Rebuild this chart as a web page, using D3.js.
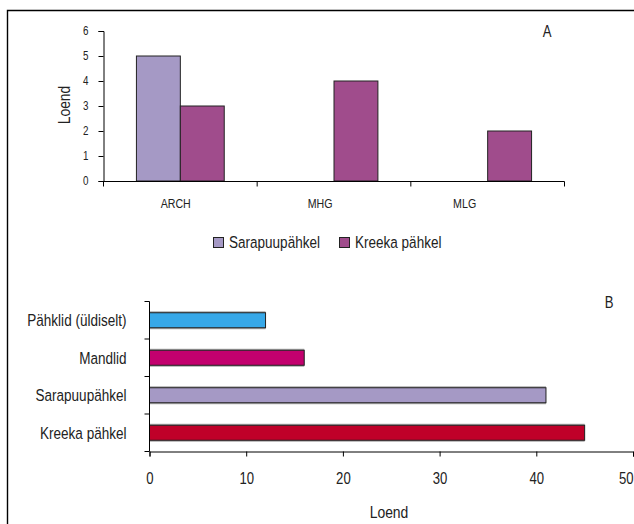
<!DOCTYPE html>
<html>
<head>
<meta charset="utf-8">
<script src="https://cdnjs.cloudflare.com/ajax/libs/d3/7.8.5/d3.min.js"></script>
<style>
  body { margin: 0; background: #fff; }
  svg text { font-family: "Liberation Sans", Arial, sans-serif; fill: #222; }
</style>
</head>
<body>
<div id="chart"></div>
<script>
// chart A data
var groupsA = ["ARCH", "MHG", "MLG"];
var seriesA = ["Sarapuupähkel", "Kreeka pähkel"];
var sarapuuA = [5, 0, 0];
var kreekaA = [3, 4, 2];
var colorsA = ["#a599c5", "#a04c8c"];
var ticksA = [0, 1, 2, 3, 4, 5, 6];

// chart B data
var catsB = ["Pähklid (üldiselt)", "Mandlid", "Sarapuupähkel", "Kreeka pähkel"];
var valuesB = [12, 16, 41, 45];
var colorsB = ["#37a8e8", "#c3006e", "#a599c5", "#bf0029"];
var ticksB = [0, 10, 20, 30, 40, 50];

// squeeze text horizontally, the original uses a narrow face
var SQ = 0.82;
function narrow(sel) {
  sel.each(function () {
    var t = d3.select(this);
    var x = +t.attr("x") || 0, y = +t.attr("y") || 0;
    t.attr("x", 0).attr("y", 0)
      .attr("transform", "translate(" + x + "," + y + ") scale(" + SQ + ",1)");
  });
}

var svg = d3.select("#chart").append("svg")
  .attr("width", 634)
  .attr("height", 524);

// outer frame (runs off the right and bottom edge)
svg.append("path")
  .attr("d", "M7.5,540 L7.5,10.5 L650,10.5")
  .style("fill", "none")
  .style("stroke", "#000")
  .style("stroke-width", 1.4);

// ---------- Chart A ----------
var xA = d3.scaleBand().domain(groupsA).range([103.5, 564.5]);
var yA = d3.scaleLinear().domain([0, 6]).range([181, 31]);
var barW = xA.bandwidth() / 3.5;   // gap width 150%
var xS = d3.scaleBand().domain(seriesA).range([0, 2 * barW]);

var rowsA = [];
groupsA.forEach(function (g, i) {
  rowsA.push({ g: g, s: seriesA[0], v: sarapuuA[i], c: colorsA[0] });
  rowsA.push({ g: g, s: seriesA[1], v: kreekaA[i], c: colorsA[1] });
});

svg.selectAll("rect.barA")
  .data(rowsA.filter(function (d) { return d.v > 0; }))
  .enter().append("rect")
  .attr("class", "barA")
  .attr("x", function (d) { return xA(d.g) + 0.75 * barW + xS(d.s); })
  .attr("y", function (d) { return yA(d.v); })
  .attr("width", xS.bandwidth())
  .attr("height", function (d) { return yA(0) - yA(d.v); })
  .style("fill", function (d) { return d.c; })
  .style("stroke", "#222")
  .style("stroke-width", 1);

var yAxisA = svg.append("g")
  .attr("transform", "translate(103.5,0)")
  .call(d3.axisLeft(yA).tickValues(ticksA).tickSize(5).tickPadding(10).tickFormat(d3.format("d")));
yAxisA.selectAll("text").style("font-size", "12px").call(narrow);

// x axis: ticks at category boundaries
var xAxisA = svg.append("g").attr("transform", "translate(0,181.5)");
xAxisA.append("line")
  .attr("x1", xA.range()[0]).attr("x2", xA.range()[1])
  .style("stroke", "#000");
xAxisA.selectAll("line.tk")
  .data(groupsA.map(function (g) { return xA(g); }).concat([xA.range()[1]]))
  .enter().append("line")
  .attr("class", "tk")
  .attr("x1", function (d) { return d; }).attr("x2", function (d) { return d; })
  .attr("y1", 0).attr("y2", 5)
  .style("stroke", "#000");
xAxisA.selectAll("text")
  .data(groupsA)
  .enter().append("text")
  .attr("x", function (g) { return xA.range()[0] + 0.94 * (xA(g) + xA.bandwidth() / 2 - xA.range()[0]); })
  .attr("y", 26)
  .attr("text-anchor", "middle")
  .style("font-size", "13px")
  .text(function (d) { return d; })
  .call(narrow);

svg.selectAll(".domain, .tick line").style("stroke", "#000");

svg.append("text")
  .attr("transform", "translate(70,105) rotate(-90) scale(" + SQ + ",1)")
  .attr("text-anchor", "middle")
  .style("font-size", "17px")
  .text("Loend");

svg.append("text")
  .attr("x", 547).attr("y", 37)
  .attr("text-anchor", "middle")
  .style("font-size", "16px")
  .text("A")
  .call(narrow);

// legend
var legX = [213, 339];
var leg = svg.selectAll("g.leg")
  .data(seriesA)
  .enter().append("g")
  .attr("class", "leg")
  .attr("transform", function (d, i) { return "translate(" + legX[i] + ",237)"; });
leg.append("rect")
  .attr("x", 0.5).attr("y", 0.5)
  .attr("width", 10).attr("height", 10)
  .style("fill", function (d, i) { return colorsA[i]; })
  .style("stroke", "#222");
leg.append("text")
  .attr("x", 16).attr("y", 11)
  .style("font-size", "16.5px")
  .text(function (d) { return d; })
  .call(narrow);

// ---------- Chart B ----------
var xB = d3.scaleLinear().domain([0, 50]).range([149.5, 633]);
var yB = d3.scaleBand().domain(catsB).range([301.5, 451.5]);
var barH = yB.bandwidth() * 0.4;

var rowsB = catsB.map(function (c, i) { return { c: c, v: valuesB[i], col: colorsB[i] }; });

// light grey shadow behind each bar
svg.selectAll("rect.shadowB")
  .data(rowsB)
  .enter().append("rect")
  .attr("class", "shadowB")
  .attr("x", xB(0))
  .attr("y", function (d) { return yB(d.c) + (yB.bandwidth() - barH) / 2 - 1.5; })
  .attr("width", function (d) { return xB(d.v) - xB(0); })
  .attr("height", barH + 3)
  .style("fill", "#aaa");

svg.selectAll("rect.barB")
  .data(rowsB)
  .enter().append("rect")
  .attr("class", "barB")
  .attr("x", xB(0))
  .attr("y", function (d) { return yB(d.c) + (yB.bandwidth() - barH) / 2; })
  .attr("width", function (d) { return xB(d.v) - xB(0); })
  .attr("height", barH)
  .style("fill", function (d) { return d.col; })
  .style("stroke", "#222")
  .style("stroke-width", 1);

var xAxisB = svg.append("g")
  .attr("transform", "translate(0,451.5)")
  .call(d3.axisBottom(xB).tickValues(ticksB).tickSize(5).tickPadding(16));
xAxisB.selectAll("text").style("font-size", "16px");
// keep the last label inside the page
xAxisB.selectAll(".tick text")
  .filter(function (d) { return d === 50; })
  .attr("text-anchor", "end").attr("x", 0);
xAxisB.selectAll("text").call(narrow);

// y axis: ticks at category boundaries
var yAxisB = svg.append("g").attr("transform", "translate(149.5,0)");
yAxisB.append("line")
  .attr("y1", yB.range()[0]).attr("y2", yB.range()[1])
  .style("stroke", "#000");
yAxisB.selectAll("line.tk")
  .data(catsB.map(function (c) { return yB(c); }).concat([yB.range()[1]]))
  .enter().append("line")
  .attr("class", "tk")
  .attr("y1", function (d) { return d; }).attr("y2", function (d) { return d; })
  .attr("x1", -5).attr("x2", 0)
  .style("stroke", "#000");
yAxisB.selectAll("text")
  .data(catsB)
  .enter().append("text")
  .attr("x", -23)
  .attr("y", function (c) { return yB(c) + yB.bandwidth() / 2 + 6; })
  .attr("text-anchor", "end")
  .style("font-size", "16.5px")
  .text(function (d) { return d; })
  .call(narrow);

svg.selectAll(".domain, .tick line").style("stroke", "#000");

svg.append("text")
  .attr("x", 389).attr("y", 518)
  .attr("text-anchor", "middle")
  .style("font-size", "17px")
  .text("Loend")
  .call(narrow);

svg.append("text")
  .attr("x", 609).attr("y", 308)
  .attr("text-anchor", "middle")
  .style("font-size", "16px")
  .text("B")
  .call(narrow);
</script>
</body>
</html>
